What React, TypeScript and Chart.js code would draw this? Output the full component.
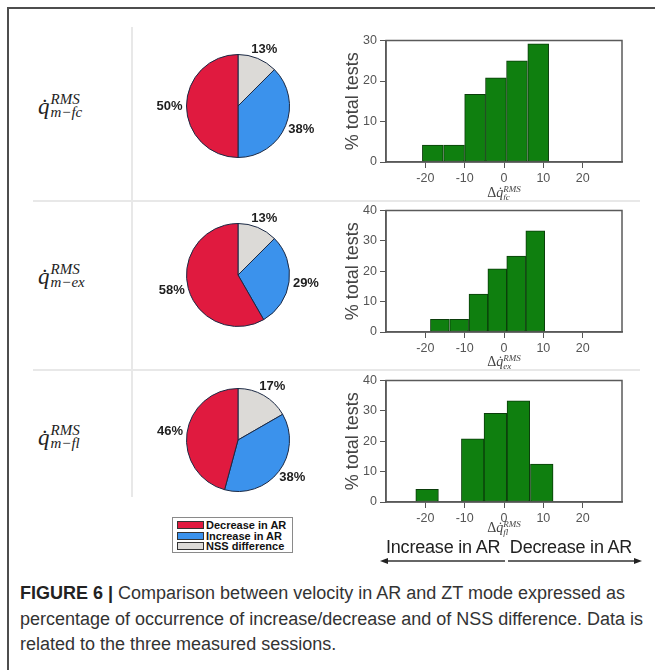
import React, { useEffect, useRef } from 'react';
import { Chart, registerables } from 'chart.js';

Chart.register(...registerables);

// ---------- data ----------
const pieCategories = ['NSS difference', 'Increase in AR', 'Decrease in AR'];
const pieColors = ['#dcdad7', '#3b92ec', '#e01a3f'];
const legendOrder = [2, 1, 0];

const pieFc = [12.5, 37.5, 50.0];
const pieEx = [12.5, 29.2, 58.3];
const pieFl = [16.7, 37.5, 45.8];

const histFcEdges = [-20.8, -15.4, -10.0, -4.7, 0.6, 6.0, 11.4];
const histFcPct = [4.2, 4.2, 16.7, 20.8, 25.0, 29.2];
const histExEdges = [-18.7, -13.9, -8.9, -4.1, 0.7, 5.5, 10.4];
const histExPct = [4.2, 4.2, 12.5, 20.8, 25.0, 33.3];
const histFlEdges = [-22.5, -16.6, -10.8, -5.1, 0.7, 6.6, 12.6];
const histFlPct = [4.2, null, 20.8, 29.2, 33.3, 12.5];

const xTickValues = [-20, -10, 0, 10, 20];
const yMaxFc = 30;
const yMaxEx = 40;
const yMaxFl = 40;

const rowSubscripts = ['m\u2212fc', 'm\u2212ex', 'm\u2212fl'];
const histSubscripts = ['fc', 'ex', 'fl'];

const SANS = '"Liberation Sans", Arial, Helvetica, sans-serif';
const SERIF = '"Liberation Serif", "DejaVu Serif", serif';

// ---------- plugins ----------
const pieOutLabels = {
  id: 'pieOutLabels',
  afterDatasetsDraw(chart: any) {
    const ctx = chart.ctx;
    const meta = chart.getDatasetMeta(0);
    const values = chart.data.datasets[0].data as number[];
    ctx.save();
    ctx.font = `bold 13px ${SANS}`;
    ctx.fillStyle = '#1e1e1e';
    ctx.textAlign = 'center';
    ctx.textBaseline = 'middle';
    meta.data.forEach((arc: any, i: number) => {
      const p = arc.getProps(['x', 'y', 'startAngle', 'endAngle', 'outerRadius'], true);
      const mid = (p.startAngle + p.endAngle) / 2;
      const dx = Math.cos(mid);
      const dy = Math.sin(mid);
      const text = Math.round(values[i]) + '%';
      const w = ctx.measureText(text).width;
      const h = 12;
      const r = p.outerRadius + 4;
      ctx.fillText(text, p.x + dx * (r + w / 2), p.y + dy * (r + h / 2));
    });
    ctx.restore();
  },
};

const frameBox = {
  id: 'frameBox',
  afterDraw(chart: any) {
    const { ctx, chartArea } = chart;
    ctx.save();
    ctx.strokeStyle = '#5a5a5a';
    ctx.lineWidth = 1.5;
    ctx.strokeRect(chartArea.left, chartArea.top, chartArea.right - chartArea.left, chartArea.bottom - chartArea.top);
    ctx.restore();
  },
};

// ---------- components ----------
function PieChart({ values, cx, cy }: { values: number[]; cx: number; cy: number }) {
  const ref = useRef<HTMLCanvasElement | null>(null);
  const W = 200;
  const H = 140;
  useEffect(() => {
    if (!ref.current) return;
    const chart = new Chart(ref.current, {
      type: 'pie',
      data: {
        labels: pieCategories,
        datasets: [
          {
            data: values,
            backgroundColor: pieColors,
            borderColor: '#1b2944',
            borderWidth: 1,
          },
        ],
      },
      options: {
        animation: false,
        responsive: false,
        maintainAspectRatio: false,
        layout: { padding: { left: 48, right: 48, top: 18, bottom: 18 } },
        plugins: { legend: { display: false }, tooltip: { enabled: false } },
      },
      plugins: [pieOutLabels],
    } as any);
    return () => chart.destroy();
  }, []);
  return (
    <canvas
      ref={ref}
      width={W}
      height={H}
      style={{ position: 'absolute', left: cx - W / 2, top: cy - H / 2, width: W, height: H }}
    />
  );
}

function Histogram({ edges, pct, yMax, top }: { edges: number[]; pct: (number | null)[]; yMax: number; top: number }) {
  const ref = useRef<HTMLCanvasElement | null>(null);
  const W = 310;
  const H = 162;
  useEffect(() => {
    if (!ref.current) return;
    const points = pct.map((v, i) => ({ x: (edges[i] + edges[i + 1]) / 2, y: v }));
    const tickFont = { family: SANS, size: 12.5 };
    const chart = new Chart(ref.current, {
      type: 'bar',
      data: {
        datasets: [
          {
            data: points,
            backgroundColor: '#0f7f0f',
            borderColor: '#0b3d0b',
            borderWidth: 1,
            borderSkipped: false,
            barPercentage: 1,
            categoryPercentage: 1,
          },
        ],
      },
      options: {
        animation: false,
        responsive: false,
        maintainAspectRatio: false,
        layout: { padding: { left: 0, right: 18, top: 10, bottom: 0 } },
        plugins: { legend: { display: false }, tooltip: { enabled: false } },
        scales: {
          x: {
            type: 'linear',
            min: -30,
            max: 30,
            offset: false,
            afterBuildTicks: (s: any) => {
              s.ticks = xTickValues.map((v) => ({ value: v }));
            },
            grid: { offset: false, drawOnChartArea: false, drawTicks: true, tickLength: 6, color: '#555' },
            border: { display: true, color: '#5a5a5a', width: 1.5 },
            ticks: { font: tickFont, color: '#555', padding: 3, maxRotation: 0, autoSkip: false },
            afterFit: (s: any) => {
              s.height = 30;
            },
          },
          y: {
            min: 0,
            max: yMax,
            ticks: { stepSize: 10, font: tickFont, color: '#555', padding: 3 },
            grid: { drawOnChartArea: false, drawTicks: true, tickLength: 6, color: '#555' },
            border: { display: true, color: '#5a5a5a', width: 1.5 },
            title: {
              display: true,
              text: '% total tests',
              font: { family: SANS, size: 18 },
              color: '#444',
              padding: { top: 12, bottom: 0 },
            },
            afterFit: (s: any) => {
              s.width = 56;
            },
          },
        },
      },
      plugins: [frameBox],
    } as any);
    return () => chart.destroy();
  }, []);
  return (
    <canvas
      ref={ref}
      width={W}
      height={H}
      style={{ position: 'absolute', left: 330, top, width: W, height: H }}
    />
  );
}

function RowLabel({ sub, cy }: { sub: string; cy: number }) {
  return (
    <div
      style={{
        position: 'absolute',
        left: 38,
        top: cy,
        transform: 'translateY(-50%)',
        display: 'flex',
        alignItems: 'center',
        fontFamily: SERIF,
        fontStyle: 'italic',
        color: '#222',
      }}
    >
      <span style={{ fontSize: 23, lineHeight: '23px' }}>{'q\u0307'}</span>
      <span style={{ display: 'inline-flex', flexDirection: 'column', fontSize: 15, lineHeight: '13px', marginLeft: 1 }}>
        <span>RMS</span>
        <span>{sub}</span>
      </span>
    </div>
  );
}

function AxisLabel({ sub, cy }: { sub: string; cy: number }) {
  return (
    <div
      style={{
        position: 'absolute',
        left: 504,
        top: cy,
        transform: 'translate(-50%, -50%)',
        display: 'flex',
        alignItems: 'center',
        fontFamily: SERIF,
        color: '#444',
        whiteSpace: 'nowrap',
      }}
    >
      <span style={{ fontSize: 14, lineHeight: '14px' }}>{'\u0394'}</span>
      <span style={{ fontSize: 14, lineHeight: '14px', fontStyle: 'italic' }}>{'q\u0307'}</span>
      <span style={{ display: 'inline-flex', flexDirection: 'column', fontSize: 9, lineHeight: '8px', fontStyle: 'italic' }}>
        <span>RMS</span>
        <span>{sub}</span>
      </span>
    </div>
  );
}

export default function App() {
  const rowCenters = [106, 276, 437];
  return (
    <div
      style={{
        position: 'absolute',
        left: 0,
        top: 0,
        width: 655,
        height: 670,
        background: '#fff',
        overflow: 'hidden',
        fontFamily: SANS,
      }}
    >
      {/* frame */}
      <div style={{ position: 'absolute', left: 7, top: 7, width: 648, height: 2, background: '#4d4d4d' }} />
      <div style={{ position: 'absolute', left: 7, top: 7, width: 2, height: 663, background: '#4d4d4d' }} />

      {/* charts */}
      <PieChart values={pieFc} cx={238} cy={106} />
      <PieChart values={pieEx} cx={238} cy={275} />
      <PieChart values={pieFl} cx={238} cy={440} />
      <Histogram edges={histFcEdges} pct={histFcPct} yMax={yMaxFc} top={30} />
      <Histogram edges={histExEdges} pct={histExPct} yMax={yMaxEx} top={200} />
      <Histogram edges={histFlEdges} pct={histFlPct} yMax={yMaxFl} top={370} />

      {/* axis titles */}
      <AxisLabel sub={histSubscripts[0]} cy={193} />
      <AxisLabel sub={histSubscripts[1]} cy={362} />
      <AxisLabel sub={histSubscripts[2]} cy={528} />

      {/* table separators */}
      <div style={{ position: 'absolute', left: 131, top: 27, width: 2, height: 470, background: '#e8e8e8' }} />
      <div style={{ position: 'absolute', left: 33, top: 200, width: 607, height: 2, background: '#e8e8e8' }} />
      <div style={{ position: 'absolute', left: 33, top: 369, width: 607, height: 2, background: '#e8e8e8' }} />

      {/* row labels */}
      {rowSubscripts.map((s, i) => (
        <RowLabel key={s} sub={s} cy={rowCenters[i]} />
      ))}

      {/* pie legend */}
      <div
        style={{
          position: 'absolute',
          left: 172,
          top: 517,
          width: 121,
          height: 36,
          border: '1px solid #8a8a8a',
          background: '#fff',
          padding: '2px 0 0 4px',
          boxSizing: 'border-box',
        }}
      >
        {legendOrder.map((k) => (
          <div key={k} style={{ display: 'flex', alignItems: 'center', height: 10.5 }}>
            <span
              style={{
                display: 'inline-block',
                width: 27,
                height: 8,
                background: pieColors[k],
                border: '1px solid #333',
                boxSizing: 'border-box',
                marginRight: 2,
              }}
            />
            <span style={{ fontSize: 11, fontWeight: 'bold', lineHeight: '10px', color: '#111', whiteSpace: 'nowrap' }}>
              {pieCategories[k]}
            </span>
          </div>
        ))}
      </div>

      {/* direction annotation */}
      <div
        style={{
          position: 'absolute',
          left: 386,
          top: 537,
          fontSize: 18,
          lineHeight: '20px',
          color: '#222',
          whiteSpace: 'nowrap',
          letterSpacing: -0.2,
        }}
      >
        Increase in AR&nbsp;&nbsp;Decrease in AR
      </div>
      <svg style={{ position: 'absolute', left: 378, top: 553, width: 270, height: 16 }} width={270} height={16}>
        <line x1={6} y1={8} x2={127} y2={8} stroke="#333" strokeWidth={1.3} />
        <polygon points="2,8 10,5 10,11" fill="#222" />
        <line x1={130} y1={8} x2={258} y2={8} stroke="#333" strokeWidth={1.3} />
        <polygon points="264,8 256,5 256,11" fill="#222" />
      </svg>

      {/* caption */}
      <div
        style={{
          position: 'absolute',
          left: 20,
          top: 581,
          fontSize: 18,
          lineHeight: '25.5px',
          color: '#333',
          whiteSpace: 'nowrap',
        }}
      >
        <b style={{ color: '#222' }}>FIGURE 6 |</b> Comparison between velocity in AR and ZT mode expressed as
        <br />
        percentage of occurrence of increase/decrease and of NSS difference. Data is
        <br />
        related to the three measured sessions.
      </div>
    </div>
  );
}
